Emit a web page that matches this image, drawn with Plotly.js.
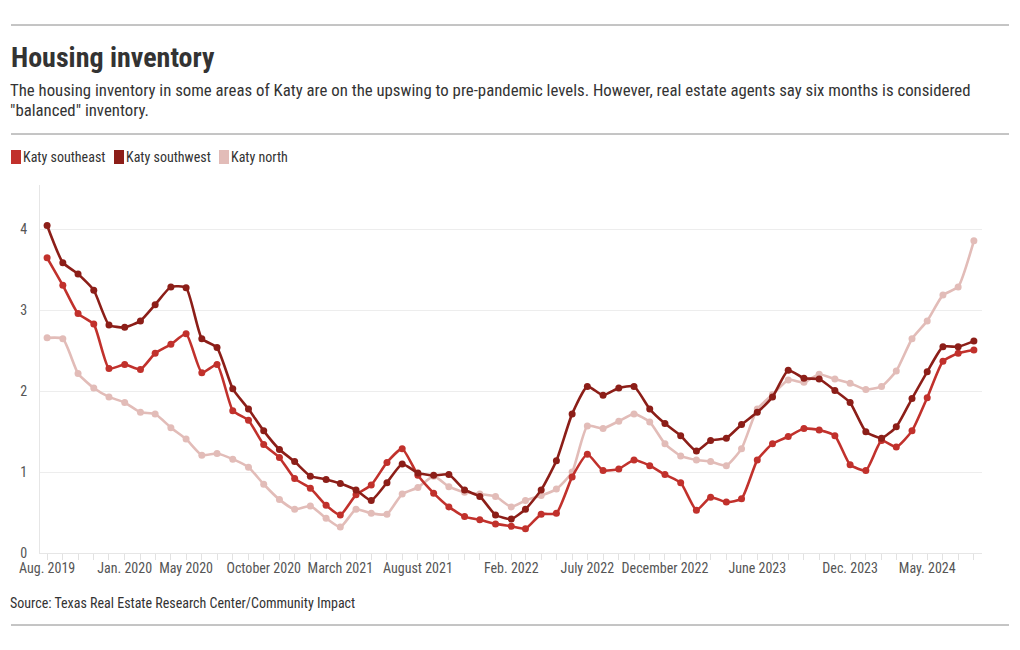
<!DOCTYPE html>
<html>
<head>
<meta charset="utf-8">
<script src="https://cdn.plot.ly/plotly-3.0.1.min.js"></script>
<style>
  html, body { margin: 0; padding: 0; background: #fff; }
  #chart { width: 1020px; height: 650px; }
</style>
</head>
<body>
<div id="chart"></div>
<script>
// ---- Data (months of inventory) ----
const months = [
  "2019-08-01","2019-09-01","2019-10-01","2019-11-01","2019-12-01",
  "2020-01-01","2020-02-01","2020-03-01","2020-04-01","2020-05-01","2020-06-01","2020-07-01","2020-08-01","2020-09-01","2020-10-01","2020-11-01","2020-12-01",
  "2021-01-01","2021-02-01","2021-03-01","2021-04-01","2021-05-01","2021-06-01","2021-07-01","2021-08-01","2021-09-01","2021-10-01","2021-11-01","2021-12-01",
  "2022-01-01","2022-02-01","2022-03-01","2022-04-01","2022-05-01","2022-06-01","2022-07-01","2022-08-01","2022-09-01","2022-10-01","2022-11-01","2022-12-01",
  "2023-01-01","2023-02-01","2023-03-01","2023-04-01","2023-05-01","2023-06-01","2023-07-01","2023-08-01","2023-09-01","2023-10-01","2023-11-01","2023-12-01",
  "2024-01-01","2024-02-01","2024-03-01","2024-04-01","2024-05-01","2024-06-01","2024-07-01","2024-08-01"
];

const katySoutheast = [
  3.65,3.31,2.96,2.83,2.28,
  2.33,2.27,2.47,2.58,2.71,2.23,2.33,1.76,1.64,1.34,1.18,0.92,
  0.80,0.59,0.47,0.72,0.84,1.12,1.29,0.96,0.74,0.57,0.45,0.41,
  0.36,0.33,0.30,0.48,0.49,0.94,1.22,1.02,1.04,1.15,1.08,0.97,
  0.87,0.53,0.69,0.63,0.67,1.15,1.35,1.44,1.54,1.52,1.45,1.09,
  1.02,1.39,1.31,1.51,1.92,2.37,2.47,2.51
];

const katySouthwest = [
  4.05,3.59,3.45,3.25,2.82,
  2.79,2.87,3.07,3.29,3.28,2.65,2.54,2.03,1.78,1.51,1.28,1.13,
  0.95,0.91,0.86,0.78,0.65,0.87,1.10,0.99,0.96,0.97,0.78,0.70,
  0.47,0.42,0.54,0.78,1.14,1.72,2.06,1.95,2.04,2.06,1.78,1.60,
  1.45,1.26,1.39,1.42,1.59,1.74,1.93,2.26,2.16,2.15,2.01,1.86,
  1.50,1.42,1.56,1.91,2.24,2.55,2.55,2.62
];

const katyNorth = [
  2.66,2.65,2.22,2.04,1.93,
  1.86,1.74,1.72,1.55,1.41,1.21,1.23,1.16,1.06,0.85,0.66,0.54,
  0.58,0.43,0.32,0.54,0.49,0.48,0.73,0.81,0.95,0.82,0.75,0.73,
  0.70,0.57,0.65,0.71,0.79,1.00,1.57,1.54,1.63,1.72,1.62,1.35,
  1.20,1.15,1.13,1.08,1.29,1.78,1.96,2.14,2.11,2.21,2.15,2.10,
  2.02,2.06,2.25,2.65,2.87,3.19,3.29,3.86
];

const seriesNames = ["Katy southeast", "Katy southwest", "Katy north"];
const seriesColors = ["#c1312c", "#8c1e18", "#e2bcb8"];

const tickDates = ["2019-08-01","2020-01-01","2020-05-01","2020-10-01","2021-03-01","2021-08-01",
                   "2022-02-01","2022-07-01","2022-12-01","2023-06-01","2023-12-01","2024-05-01"];
const tickLabels = ["Aug. 2019","Jan. 2020","May 2020","October 2020","March 2021","August 2021",
                    "Feb. 2022","July 2022","December 2022","June 2023","Dec. 2023","May. 2024"];

// ---- Layout helpers (pixel -> paper) ----
const W = 1020, H = 650;
const M = { l: 40, r: 38, t: 185, b: 97, autoexpand: false };
const PW = W - M.l - M.r, PH = H - M.t - M.b;
const px = x => (x - M.l) / PW;
const py = y => (H - M.b - y) / PH;

const FONT = 'Roboto Condensed, "Liberation Sans Narrow", "DejaVu Sans Condensed", Roboto, sans-serif';

const allSeries = [katySoutheast, katySouthwest, katyNorth];

const traces = allSeries.map((vals, i) => ({
  type: "scatter",
  mode: "lines+markers",
  x: months,
  y: vals,
  name: seriesNames[i],
  showlegend: false,
  line: { color: seriesColors[i], width: 2.6, shape: "spline", smoothing: 0.5 },
  marker: { color: seriesColors[i], size: 7 },
  hoverinfo: "x+y+name"
}));
// north drawn first (beneath), then southeast, southwest on top
const drawOrder = [traces[2], traces[0], traces[1]];

const ruleColor = "#8a8a8a";
const shapes = [
  { type: "line", xref: "paper", yref: "paper", x0: px(11), x1: px(1009), y0: py(25), y1: py(25), line: { color: ruleColor, width: 1 } },
  { type: "line", xref: "paper", yref: "paper", x0: px(11), x1: px(1009), y0: py(134), y1: py(134), line: { color: ruleColor, width: 1 } },
  { type: "line", xref: "paper", yref: "paper", x0: px(11), x1: px(1009), y0: py(625), y1: py(625), line: { color: ruleColor, width: 1 } }
];

const annotations = [
  {
    xref: "paper", yref: "paper",
    x: px(8), y: py(90), xanchor: "left", yanchor: "middle", align: "left",
    showarrow: false,
    text: "The housing inventory in some areas of Katy are on the upswing to pre-pandemic levels. However, real estate agents say six months is considered",
    font: { family: FONT, size: 16.8, color: "#333" }
  },
  {
    xref: "paper", yref: "paper",
    x: px(8), y: py(110), xanchor: "left", yanchor: "middle", align: "left",
    showarrow: false,
    text: "\"balanced\" inventory.",
    font: { family: FONT, size: 16.8, color: "#333" }
  },
  {
    xref: "paper", yref: "paper",
    x: px(8), y: py(603), xanchor: "left", yanchor: "middle", align: "left",
    showarrow: false,
    text: "Source: Texas Real Estate Research Center/Community Impact",
    font: { family: FONT, size: 14, color: "#333" }
  }
];

// legend key (swatch + label) for each series
const legendX = [11, 114, 219];
seriesNames.forEach((n, i) => {
  const x0 = legendX[i];
  shapes.push({
    type: "rect", xref: "paper", yref: "paper",
    x0: px(x0), x1: px(x0 + 10), y0: py(164), y1: py(150),
    fillcolor: seriesColors[i], line: { width: 0 }
  });
  annotations.push({
    xref: "paper", yref: "paper",
    x: px(x0 + 10), y: py(157), xanchor: "left", yanchor: "middle", align: "left",
    showarrow: false,
    text: n,
    font: { family: FONT, size: 14, color: "#333" }
  });
});

const layout = {
  width: W, height: H,
  margin: M,
  paper_bgcolor: "#fff",
  plot_bgcolor: "#fff",
  showlegend: false,
  font: { family: FONT, size: 14, color: "#444" },
  title: {
    text: "Housing inventory",
    font: { family: FONT, size: 28, weight: 700, color: "#333" },
    xref: "container", yref: "container",
    x: 11 / W, xanchor: "left",
    y: 1 - 57 / H, yanchor: "middle"
  },
  xaxis: {
    type: "date",
    range: ["2019-07-18", "2024-08-17"],
    tickmode: "array",
    tickvals: tickDates,
    ticktext: tickLabels,
    ticks: "outside", ticklen: 6, tickcolor: "#e2e2e2", tickwidth: 1,
    ticklabelstandoff: -4,
    minor: { dtick: "M1", tick0: "2019-08-01", ticks: "outside", ticklen: 6, tickcolor: "#e2e2e2", showgrid: false },
    showgrid: false,
    showline: true, linecolor: "#e6e6e6", linewidth: 1,
    zeroline: false,
    tickfont: { family: FONT, size: 14, color: "#555" },
    fixedrange: true
  },
  yaxis: {
    range: [0, 4.55],
    dtick: 1, tick0: 0,
    showgrid: true, gridcolor: "#ededed", gridwidth: 1,
    zeroline: false,
    showline: true, linecolor: "#e6e6e6", linewidth: 1,
    ticks: "", ticklabelstandoff: 9,
    tickfont: { family: FONT, size: 14, color: "#555" },
    fixedrange: true
  },
  shapes: shapes,
  annotations: annotations,
  hovermode: "closest"
};

Plotly.newPlot("chart", drawOrder, layout, { displayModeBar: false });
</script>
</body>
</html>
